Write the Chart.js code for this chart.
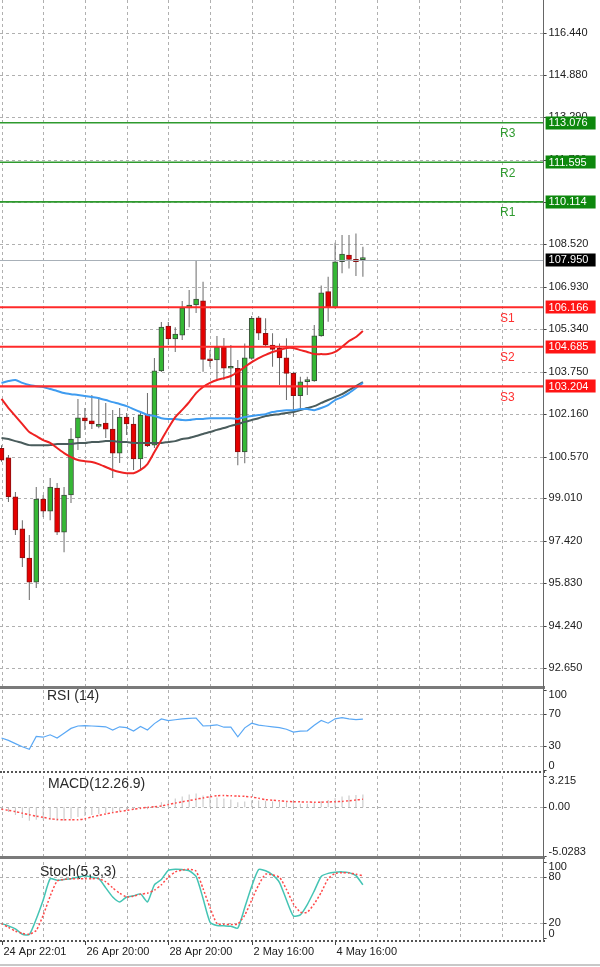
<!DOCTYPE html>
<html><head><meta charset="utf-8">
<script src="https://cdn.jsdelivr.net/npm/chart.js@4.4.0/dist/chart.umd.min.js"></script>
<style>
html,body{margin:0;padding:0;background:#fff;width:600px;height:967px;overflow:hidden;}
canvas{position:absolute;left:0;}
.sep{position:absolute;}
</style></head><body>
<canvas id="main" style="top:0px" width="600" height="688"></canvas>
<canvas id="rsi" style="top:688px" width="600" height="84"></canvas>
<canvas id="macd" style="top:772px" width="600" height="86"></canvas>
<canvas id="stoch" style="top:858px" width="600" height="109"></canvas>
<div class="sep" style="left:0;top:686px;width:545px;height:3px;background:#7a7a7a"></div>
<div class="sep" style="left:0;top:771px;width:545px;height:0;border-top:2px dotted #555"></div>
<div class="sep" style="left:0;top:856px;width:545px;height:3px;background:#7a7a7a"></div>
<div class="sep" style="left:0;top:940px;width:545px;height:0;border-top:2px dotted #555"></div>
<div class="sep" style="left:543px;top:0;width:1px;height:942px;background:#666"></div>
<div class="sep" style="left:0;top:964px;width:600px;height:2px;background:#c8c8c8"></div>
<script>
// ---------------- DATA ----------------
const opens  = [100.88,100.52,99.06,97.86,96.77,95.87,98.98,98.53,99.39,97.74,99.13,101.27,102.02,101.91,101.70,101.83,101.60,100.70,102.05,101.79,100.48,102.16,101.00,103.78,105.46,104.98,105.12,106.14,106.25,106.41,104.22,104.19,104.66,103.88,103.88,100.75,104.25,105.77,105.19,104.75,104.63,104.27,103.69,102.85,103.38,103.41,105.09,106.75,106.16,107.87,108.12,107.96,107.95];
const highs  = [101.00,100.63,99.24,98.19,97.63,99.43,99.13,99.77,99.58,99.43,101.64,102.73,102.39,102.88,102.80,102.58,102.32,102.39,102.20,102.05,102.20,102.95,104.26,105.61,105.61,105.42,106.40,106.81,107.90,107.12,104.56,105.09,105.01,104.75,104.19,104.81,105.84,105.84,105.75,105.19,104.81,105.00,103.75,103.56,103.56,105.50,106.98,107.31,108.58,108.87,108.87,108.93,108.43];
const lows   = [100.38,98.87,97.63,96.43,95.20,95.65,98.31,98.19,97.63,96.99,98.83,100.82,101.57,101.60,101.63,101.27,99.77,100.33,101.38,100.07,100.10,100.93,100.89,103.74,104.75,104.49,104.94,105.42,105.95,103.75,103.94,103.44,103.44,103.19,100.25,100.32,104.20,104.94,104.69,103.94,103.25,102.69,102.06,102.31,102.88,103.37,105.06,105.62,106.12,107.44,107.62,107.34,107.31];
const closes = [100.44,99.06,97.82,96.77,95.87,98.98,98.53,99.43,97.74,99.13,101.23,102.02,101.91,101.79,101.72,101.60,100.70,102.05,101.79,100.48,102.13,100.97,103.78,105.42,104.98,105.16,106.14,106.25,106.47,104.21,104.16,104.66,103.88,103.93,100.75,104.27,105.75,105.19,104.75,104.59,104.27,103.69,102.85,103.37,103.41,105.09,106.71,106.16,107.87,108.16,107.96,107.87,107.95];

const maRed  = [102.73,102.39,102.09,101.79,101.49,101.34,101.19,101.08,100.89,100.70,100.55,100.44,100.40,100.37,100.29,100.18,100.07,99.99,99.95,99.95,100.07,100.29,100.74,101.19,101.64,102.05,102.32,102.61,102.95,103.18,103.33,103.44,103.51,103.59,103.74,103.93,104.11,104.26,104.38,104.49,104.56,104.64,104.64,104.56,104.49,104.41,104.41,104.41,104.49,104.68,104.90,105.05,105.28];
const maBlue = [103.33,103.40,103.44,103.33,103.25,103.21,103.18,103.10,103.03,102.95,102.91,102.88,102.84,102.80,102.76,102.69,102.61,102.54,102.46,102.35,102.24,102.13,102.09,102.01,101.98,101.98,101.94,101.94,101.98,101.98,102.01,102.01,102.01,102.01,101.98,102.05,102.09,102.13,102.16,102.24,102.28,102.31,102.31,102.35,102.35,102.31,102.39,102.50,102.69,102.80,102.95,103.14,103.33];
const maGray = [101.27,101.23,101.15,101.08,101.00,101.00,101.00,101.00,101.04,101.04,101.04,101.08,101.08,101.12,101.12,101.15,101.15,101.12,101.12,101.08,101.08,101.08,101.08,101.08,101.12,101.15,101.23,101.27,101.34,101.42,101.49,101.57,101.64,101.72,101.79,101.87,101.94,102.01,102.09,102.13,102.16,102.20,102.24,102.31,102.39,102.46,102.58,102.69,102.80,102.91,103.06,103.21,103.36];

const rsiVals = [40,37,33,29,26,42,41,44,40,46,52,55,55.5,55,54.5,54,50,54,53,48.6,54.5,50,58,63.8,61.8,62.8,63.8,64.5,65,55,55.5,56.5,53.5,53.5,41.5,52.7,58.5,56,55,54,53,51,47.3,48.5,49,56,62,58.5,64,65.5,64,63,63.6];
const macdMain = [-0.3,-0.5,-0.8,-1.1,-1.4,-1.3,-1.3,-1.3,-1.4,-1.4,-1.2,-1.0,-0.9,-0.8,-0.7,-0.6,-0.6,-0.4,-0.3,-0.3,-0.2,-0.2,0.1,0.5,0.7,0.9,1.1,1.3,1.4,1.2,1.1,1.0,0.9,0.8,0.5,0.6,0.7,0.7,0.65,0.6,0.55,0.5,0.4,0.35,0.35,0.45,0.65,0.75,0.95,1.1,1.2,1.25,1.3];
const macdSignal = [-0.2,-0.33,-0.45,-0.62,-0.78,-0.92,-1.05,-1.18,-1.27,-1.3,-1.3,-1.3,-1.2,-1.0,-0.85,-0.7,-0.56,-0.45,-0.33,-0.2,-0.1,-0.02,0.05,0.13,0.28,0.42,0.56,0.68,0.82,0.95,1.08,1.18,1.2,1.18,1.15,1.12,1.05,0.92,0.78,0.72,0.66,0.6,0.57,0.55,0.53,0.52,0.52,0.54,0.56,0.6,0.66,0.74,0.82];
const stochMain = [19,16,12,5,4.5,25,50,78,76,77,78,80,82,80,78,66,54,47.5,54,55.5,58,47.5,70,77,89,90.5,90,88.5,81,52,21,16.5,16,15.5,13,40,68,90,88.5,83,73,50,29,30.5,44,62,81,85,86.5,87,86,82,70];
const stochSignal = [19,14,9,6,5,10,30,55,75,77,78,78,78,78,78,74,66,59,54,55,57.5,59,63,70,80,87,89.5,90.5,88,65,40,19,18,17.6,18.5,30,50,70,84,83,80,64,45,34,34,45,60,78,85,86,85.5,84,82];

const priceTicks = [116.44,114.88,113.29,111.70,110.11,108.52,106.93,105.34,103.75,102.16,100.57,99.01,97.42,95.83,94.24,92.65];
const priceTickLabels = ['116.440','114.880','113.290','111.700','110.110','108.520','106.930','105.340','103.750','102.160','100.570','99.010','97.420','95.830','94.240','92.650'];
const levelNames = ['R3','R2','R1','S1','S2','S3'];
const levelValues = [113.076,111.595,110.114,106.166,104.685,103.204];
const levelLabels = ['113.076','111.595','110.114','106.166','104.685','103.204'];
const lastPrice = 107.950;
const lastPriceLabel = '107.950';

const rsiTicks = [100,70,30,0];
const macdTicks = [3.215,0,-5.0283];
const macdTickLabels = ['3.215','0.00','-5.0283'];
const stochTicks = [100,80,20,0];
const dateTickIdx = [0,12,24,36,48];
const dateTickLabels = ['24 Apr 22:01','26 Apr 20:00','28 Apr 20:00','2 May 16:00','4 May 16:00'];
const gridIdx = [0,6,12,18,24,30,36,42,48,54,60,66,72];

// ---------------- HELPERS ----------------
const FONT = '"Liberation Sans", Arial, sans-serif';
const pts = arr => arr.map((v,i)=>({x:i,y:v}));

function drawGrid(chart, yVals){
  const {ctx, chartArea:a, scales:{x,y}} = chart;
  ctx.save();
  ctx.strokeStyle = '#b0b0b0'; ctx.lineWidth = 1; ctx.setLineDash([3,3]);
  ctx.beginPath();
  gridIdx.forEach(v=>{ const px=Math.round(x.getPixelForValue(v))+0.5; ctx.moveTo(px,a.top); ctx.lineTo(px,a.bottom); });
  yVals.forEach(v=>{ const py=Math.round(y.getPixelForValue(v))+0.5; ctx.moveTo(a.left,py); ctx.lineTo(a.right,py); });
  ctx.stroke(); ctx.restore();
}
function drawYLabels(chart, vals, labels, clamp){
  const {ctx, chartArea:a, scales:{y}} = chart;
  ctx.save();
  ctx.font = '11px '+FONT; ctx.fillStyle = '#202020'; ctx.textBaseline = 'middle'; ctx.textAlign = 'left';
  ctx.strokeStyle = '#444'; ctx.lineWidth = 1;
  vals.forEach((v,i)=>{
    let py = y.getPixelForValue(v);
    const ty = Math.round(py)+0.5;
    ctx.beginPath(); ctx.moveTo(a.right, ty); ctx.lineTo(a.right+3, ty); ctx.stroke();
    if (clamp) py = Math.min(Math.max(py, a.top+5), a.bottom-4);
    ctx.fillText(labels[i], a.right+5, py);
  });
  ctx.restore();
}
function panelTitle(chart, text, x, y){
  const {ctx} = chart;
  ctx.save(); ctx.font = '14px '+FONT; ctx.fillStyle = '#2a2a2a'; ctx.textBaseline='middle'; ctx.textAlign='left';
  ctx.fillText(text, x, y); ctx.restore();
}
function baseOptions(ymin, ymax, top, bottom){
  return {
    responsive:false, animation:false, devicePixelRatio:1, events:[],
    layout:{padding:{left:0,right:56.4,top:top,bottom:bottom}},
    plugins:{legend:{display:false}, tooltip:{enabled:false}},
    scales:{
      x:{type:'linear', min:-0.216, max:78, display:false, offset:false, grid:{offset:false}},
      y:{type:'linear', min:ymin, max:ymax, display:false, stacked:false}
    }
  };
}

// ---------------- MAIN ----------------
const up = closes.map((c,i)=> c >= opens[i]);
const mainPlugin = {
  id:'mainDecor',
  beforeDatasetsDraw(chart){ drawGrid(chart, priceTicks); },
  afterDatasetsDraw(chart){
    const {ctx, chartArea:a, scales:{y}} = chart;
    ctx.save();
    let py = Math.round(y.getPixelForValue(lastPrice))+0.5;
    ctx.strokeStyle = '#a8b0b8'; ctx.lineWidth = 1;
    ctx.beginPath(); ctx.moveTo(a.left,py); ctx.lineTo(a.right,py); ctx.stroke();
    levelValues.forEach((v,i)=>{
      const isR = levelNames[i][0]==='R';
      const p = y.getPixelForValue(v);
      ctx.strokeStyle = isR ? '#2e9a2e' : '#ff2a2a';
      ctx.lineWidth = isR ? 1.6 : 2.2;
      ctx.beginPath(); ctx.moveTo(a.left,p); ctx.lineTo(a.right,p); ctx.stroke();
      ctx.font = '12px '+FONT; ctx.textBaseline='middle'; ctx.textAlign='left';
      ctx.fillStyle = isR ? '#2e9a2e' : '#ff3030';
      ctx.fillText(levelNames[i], 500, p+11);
    });
    ctx.restore();
  },
  afterDraw(chart){
    const {ctx, chartArea:a, scales:{y}} = chart;
    drawYLabels(chart, priceTicks, priceTickLabels, false);
    ctx.save();
    ctx.font = '11px '+FONT; ctx.textBaseline='middle'; ctx.textAlign='left';
    const box = (v, label, bg) => {
      const p = y.getPixelForValue(v);
      ctx.fillStyle = bg; ctx.fillRect(a.right+2, Math.round(p)-6.5, 50, 13);
      ctx.fillStyle = '#fff'; ctx.fillText(label, a.right+5, p+0.5);
    };
    levelValues.forEach((v,i)=> box(v, levelLabels[i], levelNames[i][0]==='R' ? '#0d880d' : '#ff1414'));
    box(lastPrice, lastPriceLabel, '#000');
    ctx.restore();
  }
};
new Chart(document.getElementById('main'), {
  type:'bar',
  data:{datasets:[
    {type:'line', label:'MA red', data:pts(maRed), borderColor:'#ee2222', borderWidth:2, pointRadius:0, tension:0.2, order:1},
    {type:'line', label:'MA blue', data:pts(maBlue), borderColor:'#3f9cf0', borderWidth:2, pointRadius:0, tension:0.2, order:2},
    {type:'line', label:'MA gray', data:pts(maGray), borderColor:'#4a5c5c', borderWidth:2, pointRadius:0, tension:0.2, order:3},
    {type:'bar', label:'body', data:opens.map((o,i)=>({x:i, y:[o, closes[i]]})),
      backgroundColor: up.map(u=> u ? '#35b835' : '#e40000'),
      borderColor: up.map(u=> u ? '#3d4d3d' : '#8a1010'),
      borderWidth:1, borderSkipped:false, grouped:false, barPercentage:1, categoryPercentage:1,
      maxBarThickness:5, minBarLength:2, order:8},
    {type:'bar', label:'wick', data:lows.map((l,i)=>({x:i, y:[l, highs[i]]})),
      backgroundColor:'#6a6a6a', borderWidth:0, grouped:false, barPercentage:1, categoryPercentage:1,
      maxBarThickness:1, inflateAmount:0, order:9}
  ]},
  options: baseOptions(91.976, 117.676, 0, 2),
  plugins:[mainPlugin]
});

// ---------------- RSI ----------------
new Chart(document.getElementById('rsi'), {
  type:'line',
  data:{datasets:[{data:pts(rsiVals), borderColor:'#5aa8f5', borderWidth:1.2, pointRadius:0, tension:0}]},
  options: baseOptions(0, 100, 2, 2),
  plugins:[{id:'rsiDecor',
    beforeDatasetsDraw(c){ drawGrid(c, [70,30]); },
    afterDraw(c){ drawYLabels(c, rsiTicks, ['100','70','30','0'], true); panelTitle(c, 'RSI (14)', 47, 8); }
  }]
});

// ---------------- MACD ----------------
new Chart(document.getElementById('macd'), {
  type:'bar',
  data:{datasets:[
    {type:'line', data:pts(macdSignal), borderColor:'#ff4a4a', borderWidth:1.5, borderDash:[2,2], pointRadius:0, tension:0.2, order:1},
    {type:'bar', data:pts(macdMain), backgroundColor:'#c4c4c4', borderWidth:0, grouped:false, barPercentage:1, categoryPercentage:1, maxBarThickness:1, inflateAmount:0, order:2}
  ]},
  options: baseOptions(-5.0283, 3.215, 4, 2),
  plugins:[{id:'macdDecor',
    beforeDatasetsDraw(c){ drawGrid(c, [0]); },
    afterDraw(c){ drawYLabels(c, macdTicks, macdTickLabels, true); panelTitle(c, 'MACD(12.26.9)', 48, 12); }
  }]
});

// ---------------- STOCH ----------------
new Chart(document.getElementById('stoch'), {
  type:'line',
  data:{datasets:[
    {data:pts(stochMain), borderColor:'#44c4b4', borderWidth:1.5, pointRadius:0, tension:0.2, order:2},
    {data:pts(stochSignal), borderColor:'#ff4a4a', borderWidth:1.5, borderDash:[2,2], pointRadius:0, tension:0.2, order:1}
  ]},
  options: baseOptions(0, 100, 4, 29),
  plugins:[{id:'stochDecor',
    beforeDatasetsDraw(c){ drawGrid(c, [80,20]); },
    afterDraw(c){
      drawYLabels(c, stochTicks, ['100','80','20','0'], true);
      panelTitle(c, 'Stoch(5,3,3)', 40, 14);
      const {ctx, chartArea:a, scales:{x}} = c;
      ctx.save();
      ctx.font = '11px '+FONT; ctx.fillStyle='#202020'; ctx.textBaseline='middle'; ctx.textAlign='left';
      ctx.strokeStyle='#444'; ctx.lineWidth=1;
      dateTickIdx.forEach((v,i)=>{
        const px = Math.round(x.getPixelForValue(v))+0.5;
        ctx.beginPath(); ctx.moveTo(px, a.bottom+3); ctx.lineTo(px, a.bottom+7); ctx.stroke();
        ctx.fillText(dateTickLabels[i], px+1, a.bottom+14);
      });
      ctx.restore();
    }
  }]
});
</script>
</body></html>
